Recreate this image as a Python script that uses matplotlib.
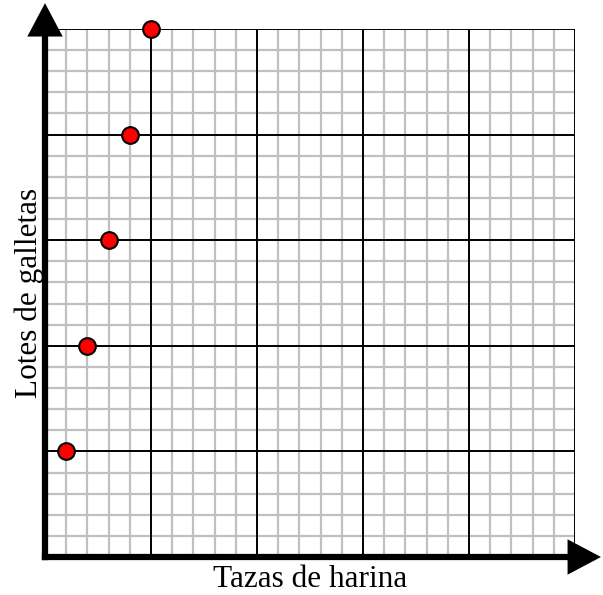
import numpy as np
import matplotlib.pyplot as plt

tazas = [1, 2, 3, 4, 5]
lotes = [5, 10, 15, 20, 25]
x_max = 25
y_max = 25

plt.rcParams['font.family'] = ['Liberation Serif', 'DejaVu Serif']

fig = plt.figure(figsize=(6.03, 5.95), dpi=100)
ax = fig.add_axes([45/603, 38/595, 530/603, 528/595])
ax.set_xlim(0, x_max)
ax.set_ylim(0, y_max)

# grid: light minor lines every 1, black major every 5
for v in range(1, x_max + 1):
    if v % 5:
        ax.axvline(v, color='#c0c0c0', lw=1.6, zorder=1)
for v in range(1, y_max + 1):
    if v % 5:
        ax.axhline(v, color='#c0c0c0', lw=1.6, zorder=1)
for v in range(5, x_max + 1, 5):
    ax.axvline(v, color='black', lw=1.4, zorder=2)
for v in range(5, y_max + 1, 5):
    ax.axhline(v, color='black', lw=1.4, zorder=2)

ax.plot(tazas, lotes, 'o', color='red', markeredgecolor='black',
        markersize=12, markeredgewidth=1.5, clip_on=False, zorder=5)

for s in ax.spines.values():
    s.set_visible(False)
ax.set_xticks([])
ax.set_yticks([])

# axes with arrows
arrow = dict(arrowstyle='-|>,head_length=0.85,head_width=0.45', lw=4.5,
             color='black', mutation_scale=20, shrinkA=0, shrinkB=0,
             joinstyle='miter', capstyle='butt')
ax.annotate('', xy=(0, 1.049), xytext=(0, -0.006), xycoords='axes fraction',
            arrowprops=arrow, annotation_clip=False)
ax.annotate('', xy=(1.049, 0), xytext=(-0.006, 0), xycoords='axes fraction',
            arrowprops=arrow, annotation_clip=False)

ax.set_xlabel('Tazas de harina', fontsize=22.5, labelpad=6)
ax.set_ylabel('Lotes de galletas', fontsize=22.5, labelpad=1)

fig.savefig('out.png', dpi=100)
